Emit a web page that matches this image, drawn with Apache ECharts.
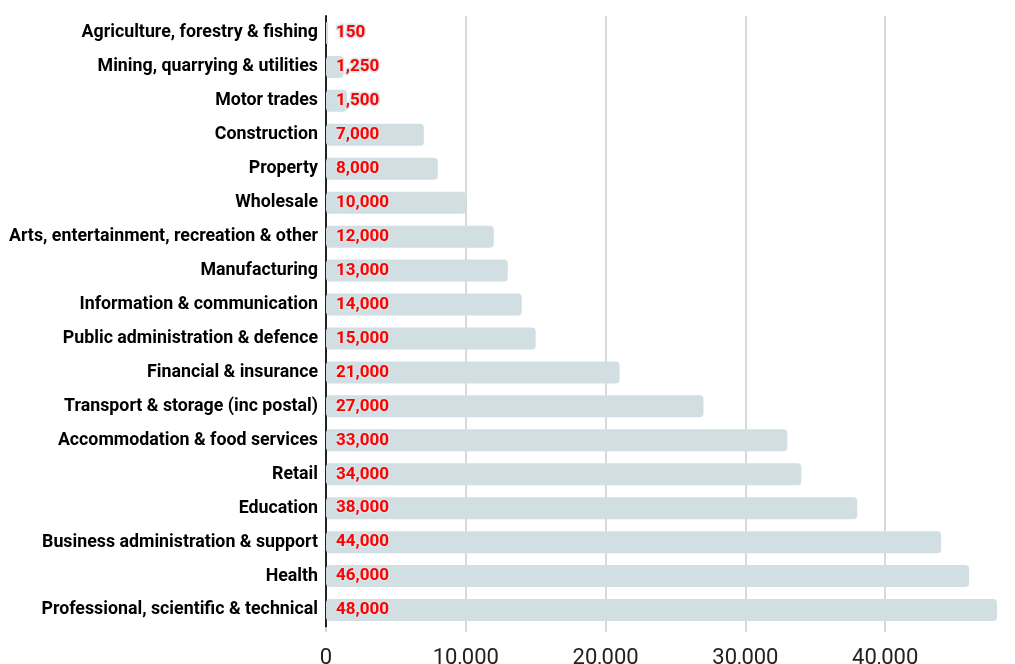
<!DOCTYPE html>
<html>
<head>
<meta charset="utf-8">
<script src="https://cdn.jsdelivr.net/npm/echarts@6/dist/echarts.min.js"></script>
<style>
  html, body { margin: 0; padding: 0; background: #ffffff; }
  #chart { width: 1015px; height: 664px; }
</style>
</head>
<body>
<div id="chart"></div>
<script>
// Employment by industry, top row first
const industries = [
  'Agriculture, forestry & fishing',
  'Mining, quarrying & utilities',
  'Motor trades',
  'Construction',
  'Property',
  'Wholesale',
  'Arts, entertainment, recreation & other',
  'Manufacturing',
  'Information & communication',
  'Public administration & defence',
  'Financial & insurance',
  'Transport & storage (inc postal)',
  'Accommodation & food services',
  'Retail',
  'Education',
  'Business administration & support',
  'Health',
  'Professional, scientific & technical'
];
const jobs = [150, 1250, 1500, 7000, 8000, 10000, 12000, 13000, 14000, 15000,
              21000, 27000, 33000, 34000, 38000, 44000, 46000, 48000];

const chart = echarts.init(document.getElementById('chart'), null, { renderer: 'canvas' });
chart.setOption({
  animation: false,
  backgroundColor: '#ffffff',
  // the 50,000 end of the scale sits just past the right edge of the page
  grid: { left: 326, right: -10, top: 16, bottom: 37, containLabel: false, outerBoundsMode: 'none' },
  xAxis: {
    type: 'value',
    min: 0,
    max: 50000,
    interval: 10000,
    axisLine: { show: false },
    axisTick: { show: true, length: 5, lineStyle: { color: '#cccccc', width: 1.5 } },
    splitLine: { lineStyle: { color: '#cccccc', width: 1.5 } },
    axisLabel: {
      margin: 20,
      fontFamily: 'Roboto',
      fontSize: 22,
      color: '#222222',
      showMaxLabel: false,
      formatter: v => v.toLocaleString('en-US')
    }
  },
  yAxis: {
    type: 'category',
    inverse: true,
    data: industries,
    axisLine: { show: true, lineStyle: { color: '#222222', width: 2 } },
    axisTick: { show: false },
    axisLabel: {
      margin: 8,
      fontFamily: 'Roboto',
      fontWeight: 'bold',
      fontSize: 17.8,
      color: '#000000'
    }
  },
  series: [{
    type: 'bar',
    data: jobs,
    barWidth: 22,
    itemStyle: { color: '#d1dfe3', borderRadius: 4 },
    label: {
      show: true,
      position: 'insideLeft',
      distance: 10,
      fontFamily: 'Roboto',
      fontWeight: 'bold',
      fontSize: 17,
      color: '#ff0000',
      textBorderColor: '#d8e4e7',
      textBorderWidth: 3,
      formatter: p => p.value.toLocaleString('en-US')
    }
  }]
});
</script>
</body>
</html>
